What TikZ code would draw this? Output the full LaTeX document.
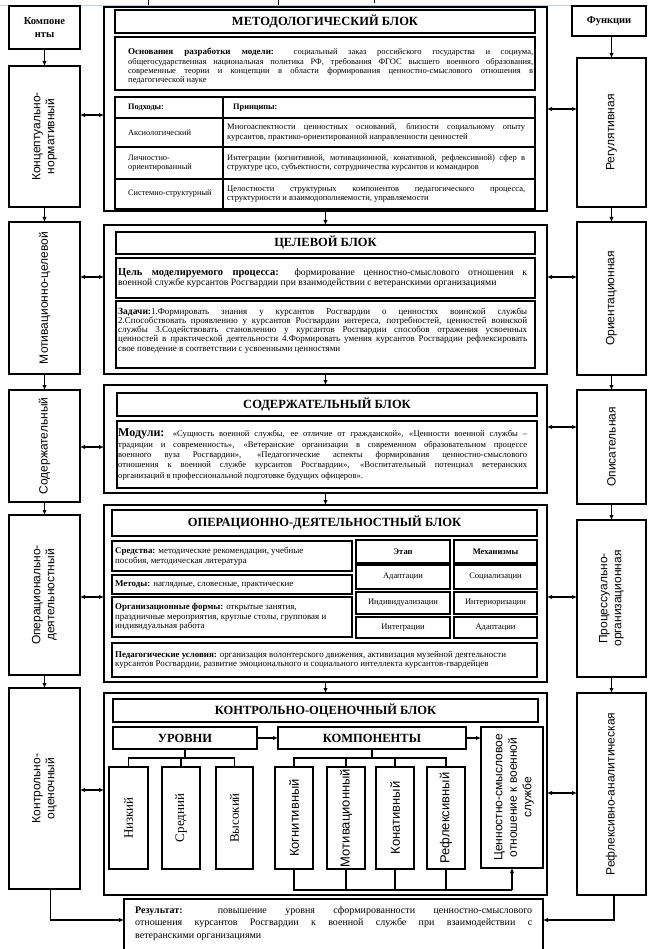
\documentclass[tikz,border=0pt]{standalone}
\usepackage{fontspec}
\setmainfont{Liberation Serif}
\newfontfamily\lsans{Liberation Sans}
\usetikzlibrary{arrows.meta}
\newcommand\mkbox[6]{%
  \pgfmathsetmacro\bxw{#5-#3}%
  \pgfmathsetmacro\bxh{#6-#4}%
  \node[#1, minimum width=\bxw pt, minimum height=\bxh pt, anchor=north west] (#2) at (#3,#4) {};%
}
\tikzset{
  outerbox/.style={draw, line width=1.8pt, inner sep=0pt, outer sep=0pt},
  inbox/.style={draw, line width=1.4pt, inner sep=0pt, outer sep=0pt},
  cell/.style={draw, line width=1.2pt, inner sep=0pt, outer sep=0pt},
  sidebox/.style={draw, line width=1.5pt, inner sep=0pt, outer sep=0pt},
  arr/.style={line width=1.2pt, -{Latex[length=5pt,width=4.5pt]}},
  darr/.style={line width=1.2pt, {Latex[length=5pt,width=4.5pt]}-{Latex[length=5pt,width=4.5pt]}},
  ln/.style={line width=1.2pt},
  sidelbl/.style={font=\lsans\fontsize{12}{14}\selectfont, rotate=90, align=center, inner sep=0pt},
  ttl/.style={font=\bfseries\fontsize{12.5}{14}\selectfont, inner sep=0pt},
  body/.style={font=\fontsize{8.3}{9.3}\selectfont, inner sep=0pt, anchor=west},
  bbody/.style={font=\bfseries\fontsize{8.3}{9.3}\selectfont, inner sep=0pt, anchor=west},
  cbody/.style={font=\fontsize{8.5}{9.3}\selectfont, inner sep=0pt},
  lvl/.style={font=\fontsize{13}{15}\selectfont, rotate=90, inner sep=0pt},
  cmp/.style={font=\lsans\fontsize{13}{15}\selectfont, rotate=90, inner sep=0pt},
}
\begin{document}
\begin{tikzpicture}[x=1pt,y=-1pt]
\useasboundingbox (0,0) rectangle (648,949);
\clip (0,0) rectangle (648,949);
% top artifacts
\draw[line width=0.6pt, color={rgb,255:red,190;green,205;blue,230}] (0,5) -- (648,5);
\draw[line width=1pt] (148,0) -- (148,5);
\draw[line width=1pt] (278,0) -- (278,5);
\draw[line width=1pt] (374,0) -- (374,3);

% ---------- left column
\mkbox{sidebox}{hL}{9}{6}{80}{49}
\node[font=\bfseries\fontsize{10.5}{13.5}\selectfont, align=center, inner sep=0pt] (hLt) at (hL.center) {Компоне\\нты};
\mkbox{sidebox}{L1}{9}{66}{80}{207}
\node[sidelbl] (L1t) at (L1.center) {Концептуально-\\нормативный};
\mkbox{sidebox}{L2}{9}{222}{80}{374}
\node[sidelbl] (L2t) at (L2.center) {Мотивационно-целевой};
\mkbox{sidebox}{L3}{9}{390}{80}{502}
\node[sidelbl] (L3t) at (L3.center) {Содержательный};
\mkbox{sidebox}{L4}{9}{515}{80}{675}
\node[sidelbl] (L4t) at (L4.center) {Операционально-\\деятельностный};
\mkbox{sidebox}{L5}{9}{688}{80}{889}
\node[sidelbl] (L5t) at (L5.center) {Контрольно-\\оценочный};
\draw[arr] (hL.south) -- (L1.north);
\draw[arr] (L1.south) -- (L2.north);
\draw[arr] (L2.south) -- (L3.north);
\draw[arr] (L3.south) -- (L4.north);
\draw[arr] (L4.south) -- (L5.north);

% ---------- right column
\mkbox{sidebox}{hR}{572}{6}{646}{36}
\node[font=\bfseries\fontsize{10.5}{12}\selectfont, inner sep=0pt] (hRt) at (hR.center) {Функции};
\mkbox{sidebox}{R1}{577}{58}{646}{207}
\node[sidelbl] (R1t) at (R1.center) {Регулятивная};
\mkbox{sidebox}{R2}{577}{222}{646}{375}
\node[sidelbl] (R2t) at (R2.center) {Ориентационная};
\mkbox{sidebox}{R3}{577}{390}{646}{504}
\node[sidelbl] (R3t) at (R3.center) {Описательная};
\mkbox{sidebox}{R4}{577}{520}{646}{677}
\node[sidelbl] (R4t) at (R4.center) {Процессуально-\\организационная};
\mkbox{sidebox}{R5}{577}{693}{646}{895}
\node[sidelbl] (R5t) at (R5.center) {Рефлексивно-аналитическая};
\draw[arr] (R1.north |- hR.south) -- (R1.north);
\draw[arr] (R1.south) -- (R2.north);
\draw[arr] (R2.south) -- (R3.north);
\draw[arr] (R3.south) -- (R4.north);
\draw[arr] (R4.south) -- (R5.north);

% ---------- main frames
\mkbox{outerbox}{M1}{104}{7}{547}{211}
\mkbox{outerbox}{M2}{104}{225}{547}{374}
\mkbox{outerbox}{M3}{104}{385}{547}{493}
\mkbox{outerbox}{M4}{104}{505}{547}{682}
\mkbox{outerbox}{M5}{104}{693}{547}{895}
\draw[arr] (M1.south) -- (M2.north);
\draw[arr] (M2.south) -- (M3.north);
\draw[arr] (M3.south) -- (M4.north);
\draw[arr] (M4.south) -- (M5.north);

\draw[darr] (L1.east |- 0,115) -- (M1.west |- 0,115);
\draw[darr] (M1.east |- 0,109) -- (R1.west |- 0,109);
\draw[darr] (L2.east |- 0,277) -- (M2.west |- 0,277);
\draw[darr] (M2.east |- 0,277) -- (R2.west |- 0,277);
\draw[darr] (L3.east |- 0,447) -- (M3.west |- 0,447);
\draw[darr] (M3.east |- 0,427) -- (R3.west |- 0,427);
\draw[darr] (L4.east |- 0,597) -- (M4.west |- 0,597);
\draw[darr] (M4.east |- 0,597) -- (R4.west |- 0,597);
\draw[darr] (L5.east |- 0,790) -- (M5.west |- 0,790);
\draw[darr] (M5.east |- 0,793) -- (R5.west |- 0,793);

% ---------- methodological block
\mkbox{inbox}{T1}{115}{10}{535}{33}
\node[ttl] (T1t) at (T1.center) {МЕТОДОЛОГИЧЕСКИЙ БЛОК};
\mkbox{inbox}{B1}{115}{37}{535}{90}
\node[body, text width=405pt, align=justify, font=\fontsize{8.5}{9.4}\selectfont] (B1t) at ([xshift=13pt, yshift=-3pt]B1.west) {{\fontsize{9}{9.4}\selectfont\bfseries Основания разработки модели:} социальный заказ российского государства и социума,\linebreak общегосударственная национальная политика РФ, требования ФГОС высшего военного образования,\linebreak современные теории и концепции в области формирования ценностно-смыслового отношения в\linebreak педагогической науке};
\mkbox{cell}{c11}{115}{97}{223}{118}
\mkbox{cell}{c12}{223}{97}{535}{118}
\mkbox{cell}{c21}{115}{118}{223}{147}
\mkbox{cell}{c22}{223}{118}{535}{147}
\mkbox{cell}{c31}{115}{147}{223}{179}
\mkbox{cell}{c32}{223}{147}{535}{179}
\mkbox{cell}{c41}{115}{179}{223}{209}
\mkbox{cell}{c42}{223}{179}{535}{209}
\node[bbody] (c11t) at ([xshift=13pt]c11.west) {Подходы:};
\node[bbody] (c12t) at ([xshift=10pt]c12.west) {Принципы:};
\node[body] (c21t) at ([xshift=13pt]c21.west) {Аксиологический};
\node[body, align=left] (c31t) at ([xshift=13pt]c31.west) {Личностно-\\ориентированный};
\node[body] (c41t) at ([xshift=13pt]c41.west) {Системно-структурный};
\node[body, text width=298pt, align=justify, font=\fontsize{8.5}{9.3}\selectfont] (c22t) at ([xshift=4pt]c22.west) {Многоаспектности ценностных оснований, близости социальному опыту\linebreak курсантов, практико-ориентированной направленности ценностей};
\node[body, text width=298pt, align=justify, font=\fontsize{8.4}{9.3}\selectfont] (c32t) at ([xshift=4pt]c32.west) {Интеграции (когнитивной, мотивационной, конативной, рефлексивной) сфер в\linebreak структуре цсо, субъектности, сотрудничества курсантов и командиров};
\node[body, text width=298pt, align=justify, font=\fontsize{8.5}{9.3}\selectfont] (c42t) at ([xshift=4pt]c42.west) {Целостности структурных компонентов педагогического процесса,\linebreak структурности и взаимодополняемости, управляемости};

% ---------- target block
\mkbox{inbox}{T2}{116}{232}{535}{254}
\node[ttl] (T2t) at (T2.center) {ЦЕЛЕВОЙ БЛОК};
\mkbox{inbox}{G2}{116}{258}{535}{298}
\node[body, text width=409pt, align=justify, font=\fontsize{9.7}{10.5}\selectfont] (G2t) at ([xshift=2pt]G2.west) {{\fontsize{10.5}{10.5}\selectfont\bfseries Цель моделируемого процесса:} формирование ценностно-смыслового отношения к\linebreak военной службе курсантов Росгвардии при взаимодействии с ветеранскими организациями};
\mkbox{inbox}{Z2}{116}{301}{535}{368}
\node[body, text width=409pt, align=justify, font=\fontsize{9}{9.2}\selectfont] (Z2t) at ([xshift=2pt, yshift=4pt]Z2.west) {{\fontsize{9.5}{9.2}\selectfont\bfseries Задачи:}1.Формировать знания у курсантов Росгвардии о ценностях воинской службы\linebreak 2.Способствовать проявлению у курсантов Росгвардии интереса, потребностей, ценностей воинской\linebreak службы 3.Содействовать становлению у курсантов Росгвардии способов отражения усвоенных\linebreak ценностей в практической деятельности 4.Формировать умения курсантов Росгвардии рефлексировать\linebreak свое поведение в соответствии с усвоенными ценностями};

% ---------- content block
\mkbox{inbox}{T3}{117}{393}{537}{416}
\node[ttl] (T3t) at (T3.center) {СОДЕРЖАТЕЛЬНЫЙ БЛОК};
\mkbox{inbox}{D3}{117}{421}{537}{488}
\node[body, text width=409pt, align=justify, font=\fontsize{8.6}{10.3}\selectfont] (D3t) at ([xshift=1pt]D3.west) {{\fontsize{12}{10.3}\selectfont\bfseries Модули:} «Сущность военной службы, ее отличие от гражданской», «Ценности военной службы –\linebreak традиции и современность», «Ветеранские организации в современном образовательном процессе\linebreak военного вуза Росгвардии», «Педагогические аспекты формирования ценностно-смыслового\linebreak отношения к военной службе курсантов Росгвардии», «Воспитательный потенциал ветеранских\linebreak организаций в профессиональной подготовке будущих офицеров».};

% ---------- operational block
\mkbox{inbox}{T4}{112}{510}{537}{536}
\node[ttl] (T4t) at (T4.center) {ОПЕРАЦИОННО-ДЕЯТЕЛЬНОСТНЫЙ БЛОК};
\mkbox{inbox}{S4}{112}{541}{352}{571}
\mkbox{inbox}{E4}{112}{575}{352}{594}
\mkbox{inbox}{O4}{112}{597}{352}{637}
\mkbox{inbox}{P4}{112}{643}{537}{677}
\node[body, align=left, font=\fontsize{8.9}{10}\selectfont] (S4t) at ([xshift=3pt]S4.west) {\textbf{Средства:} методические рекомендации, учебные\\пособия, методическая литература};
\node[body, font=\fontsize{8.9}{10}\selectfont] (E4t) at ([xshift=3pt]E4.west) {\textbf{Методы:} наглядные, словесные, практические};
\node[body, align=left, font=\fontsize{8.9}{9.7}\selectfont] (O4t) at ([xshift=3pt]O4.west) {\textbf{Организационные формы:} открытые занятия,\\праздничные мероприятия, круглые столы, групповая и\\индивидуальная работа};
\node[body, align=left, font=\fontsize{8.9}{9.6}\selectfont] (P4t) at ([xshift=3pt]P4.west) {\textbf{Педагогические условия:} организация волонтерского движения, активизация музейной деятельности\\курсантов Росгвардии, развитие эмоционального и социального интеллекта курсантов-гвардейцев};
\mkbox{inbox}{e11}{356}{540}{450}{563}
\mkbox{inbox}{e12}{454}{540}{537}{563}
\mkbox{inbox}{e21}{356}{565}{450}{589}
\mkbox{inbox}{e22}{454}{565}{537}{589}
\mkbox{inbox}{e31}{356}{592}{450}{614}
\mkbox{inbox}{e32}{454}{592}{537}{614}
\mkbox{inbox}{e41}{356}{617}{450}{638}
\mkbox{inbox}{e42}{454}{617}{537}{638}
\node[cbody, font=\bfseries\fontsize{8.5}{9.3}\selectfont] (e11t) at (e11.center) {Этап};
\node[cbody, font=\bfseries\fontsize{8.5}{9.3}\selectfont] (e12t) at (e12.center) {Механизмы};
\node[cbody] (e21t) at (e21.center) {Адаптации};
\node[cbody] (e22t) at (e22.center) {Социализации};
\node[cbody] (e31t) at (e31.center) {Индивидуализации};
\node[cbody] (e32t) at (e32.center) {Интериоризации};
\node[cbody] (e41t) at (e41.center) {Интеграции};
\node[cbody] (e42t) at (e42.center) {Адаптации};

% ---------- control block
\mkbox{inbox}{T5}{113}{699}{538}{722}
\node[ttl] (T5t) at (T5.center) {КОНТРОЛЬНО-ОЦЕНОЧНЫЙ БЛОК};
\mkbox{inbox}{U5}{113}{727}{257}{749}
\node[ttl] (U5t) at (U5.center) {УРОВНИ};
\mkbox{inbox}{K5}{278}{727}{466}{749}
\node[ttl] (K5t) at (K5.center) {КОМПОНЕНТЫ};
\mkbox{inbox}{V5}{481}{727}{543}{868}
\node[font=\lsans\fontsize{12}{14.5}\selectfont, rotate=90, align=center, inner sep=0pt] (V5t) at ([xshift=2pt]V5.center) {Ценностно-смысловое\\отношение к военной\\службе};
\mkbox{inbox}{lv1}{109}{767}{148}{869}
\mkbox{inbox}{lv2}{162}{767}{200}{869}
\mkbox{inbox}{lv3}{216}{767}{253}{869}
\mkbox{inbox}{cp1}{275}{767}{313}{869}
\mkbox{inbox}{cp2}{327}{767}{365}{869}
\mkbox{inbox}{cp3}{376}{767}{414}{869}
\mkbox{inbox}{cp4}{427}{767}{465}{869}
\node[lvl] (lv1t) at (lv1.center) {Низкий};
\node[lvl] (lv2t) at (lv2.center) {Средний};
\node[lvl] (lv3t) at (lv3.center) {Высокий};
\node[cmp] (cp1t) at (cp1.center) {Когнитивный};
\node[cmp] (cp2t) at (cp2.center) {Мотивационный};
\node[cmp] (cp3t) at (cp3.center) {Конативный};
\node[cmp] (cp4t) at (cp4.center) {Рефлексивный};
\coordinate (ubar) at (0,758);
\coordinate (bbar) at (0,890);
\draw[ln] (U5.south) -- (U5.south |- ubar);
\draw[ln] (lv1.north) |- (lv3.north |- ubar) -- (lv3.north);
\draw[ln] (lv2.north) -- (lv2.north |- ubar);
\draw[ln] (K5.south) -- (K5.south |- ubar);
\draw[ln] (cp1.north) |- (cp4.north |- ubar) -- (cp4.north);
\draw[ln] (cp2.north) -- (cp2.north |- ubar);
\draw[ln] (cp3.north) -- (cp3.north |- ubar);
\draw[arr] (U5.east) -- (K5.west);
\draw[arr] (K5.east) -- (V5.west |- K5.east);
\draw[ln] (cp1.south) |- (V5.south |- bbar);
\draw[ln] (cp2.south) -- (cp2.south |- bbar);
\draw[ln] (cp3.south) -- (cp3.south |- bbar);
\draw[ln] (cp4.south) -- (cp4.south |- bbar);
\draw[arr] (V5.south |- bbar) -- (V5.south);

% ---------- result
\mkbox{inbox}{RES}{124}{899}{543}{962}
\node[font=\fontsize{10}{12.5}\selectfont, text width=397pt, align=justify, inner sep=0pt, anchor=north west] (RESt) at ([xshift=11pt, yshift=-7pt]RES.north west) {\textbf{Результат:} повышение уровня сформированности ценностно-смыслового\linebreak отношения курсантов Росгвардии к военной службе при взаимодействии с\linebreak ветеранскими организациями};
\draw[arr] ([xshift=6pt]L5.south) |- (RES.west |- 0,920);
\draw[arr] ([xshift=2.5pt]R5.south) |- (RES.east |- 0,920);
\end{tikzpicture}
\end{document}
